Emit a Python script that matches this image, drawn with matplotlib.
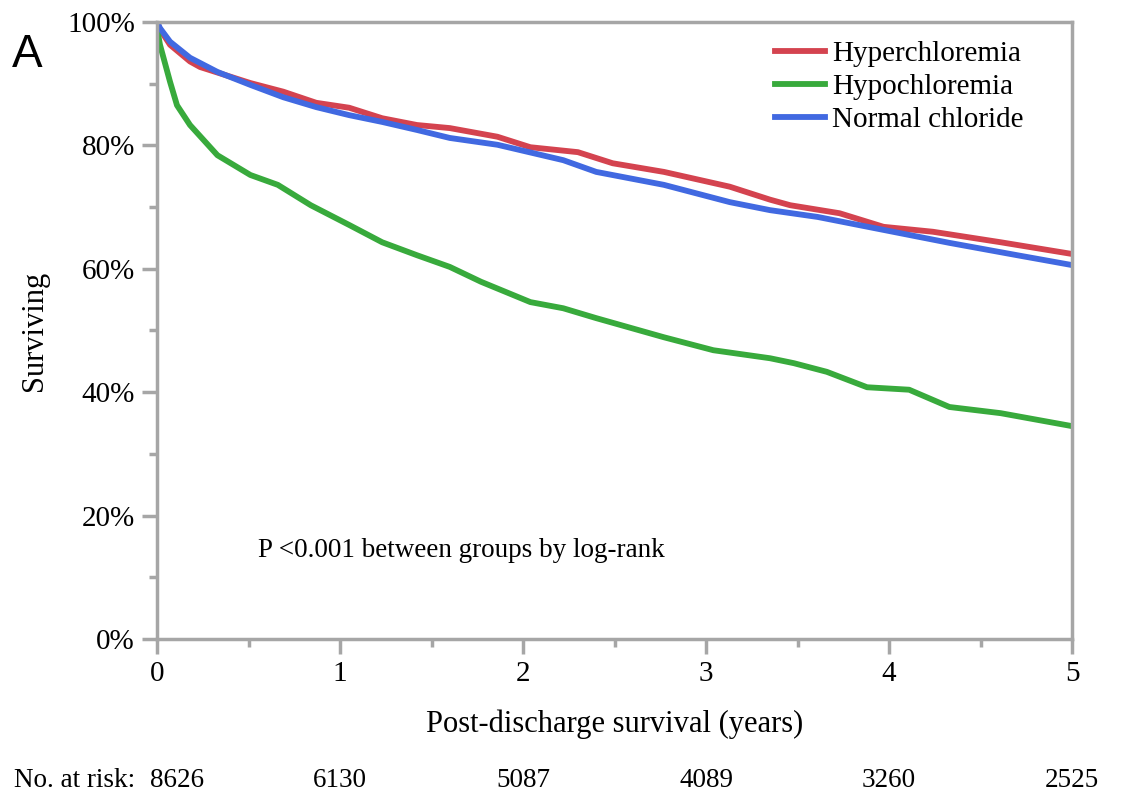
import matplotlib.pyplot as plt
from matplotlib.ticker import MultipleLocator, FuncFormatter

# survival curves (years, % surviving)
hyper_t = [0, 0.016, 0.071, 0.18, 0.235, 0.51, 0.69, 0.87, 1.05, 1.23, 1.42, 1.60,
           1.86, 2.04, 2.30, 2.49, 2.77, 3.13, 3.35, 3.46, 3.73, 3.97, 4.24, 4.61, 5.0]
hyper_s = [100, 98.8, 96.3, 93.6, 92.7, 90.1, 88.7, 86.9, 86.1, 84.4, 83.3, 82.8,
           81.4, 79.7, 78.9, 77.1, 75.7, 73.3, 71.2, 70.3, 69.0, 66.8, 66.0, 64.3, 62.4]

hypo_t = [0, 0.016, 0.071, 0.109, 0.18, 0.33, 0.51, 0.66, 0.84, 1.05, 1.23, 1.42, 1.60,
          1.77, 2.04, 2.22, 2.40, 2.77, 3.04, 3.35, 3.48, 3.66, 3.88, 4.11, 4.33, 4.61, 5.0]
hypo_s = [99.0, 96.3, 90.3, 86.5, 83.3, 78.4, 75.2, 73.6, 70.3, 67.1, 64.3, 62.2, 60.3,
          57.9, 54.6, 53.6, 52.0, 48.9, 46.8, 45.5, 44.7, 43.3, 40.8, 40.4, 37.6, 36.6, 34.5]

norm_t = [0, 0.016, 0.071, 0.18, 0.33, 0.51, 0.69, 0.87, 1.05, 1.23, 1.42, 1.60, 1.86,
          2.22, 2.40, 2.77, 3.13, 3.35, 3.61, 3.97, 4.33, 4.70, 5.0]
norm_s = [100, 99.0, 96.8, 94.2, 91.9, 89.8, 87.8, 86.2, 84.9, 83.8, 82.5, 81.2, 80.1,
          77.6, 75.7, 73.6, 70.8, 69.5, 68.4, 66.3, 64.2, 62.2, 60.6]

risk_years = [0, 1, 2, 3, 4, 5]
at_risk = [8626, 6130, 5087, 4089, 3260, 2525]

serif = 'Liberation Serif'
grey = '#a6a6a6'

fig = plt.figure(figsize=(11.25, 7.93), dpi=100)
ax = fig.add_axes([0.1396, 0.1942, 0.8133, 0.7781])

ax.plot(hyper_t, hyper_s, color='#d4434f', lw=4.2, label='Hyperchloremia')
ax.plot(hypo_t, hypo_s, color='#38aa3c', lw=4.2, label='Hypochloremia')
ax.plot(norm_t, norm_s, color='#4169e1', lw=4.2, label='Normal chloride')

ax.set_xlim(0, 5)
ax.set_ylim(0, 100)
ax.xaxis.set_major_locator(MultipleLocator(1))
ax.xaxis.set_minor_locator(MultipleLocator(0.5))
ax.yaxis.set_major_locator(MultipleLocator(20))
ax.yaxis.set_minor_locator(MultipleLocator(10))
ax.yaxis.set_major_formatter(FuncFormatter(lambda v, p: '%d%%' % v))

for s in ax.spines.values():
    s.set_color(grey)
    s.set_linewidth(2.5)
ax.tick_params(which='major', length=11, width=2.5, color=grey, direction='out', pad=5)
ax.tick_params(which='minor', length=6, width=2.5, color=grey, direction='out')
for lab in ax.get_xticklabels() + ax.get_yticklabels():
    lab.set_fontfamily(serif)
    lab.set_fontsize(21)

ax.set_xlabel('Post-discharge survival (years)', fontfamily=serif, fontsize=22, labelpad=16)
ax.set_ylabel('Surviving', fontfamily=serif, fontsize=22, labelpad=13)

ax.text(0.55, 14.4, 'P <0.001 between groups by log-rank', fontfamily=serif,
        fontsize=19.5, va='center')

leg = ax.legend(loc='upper right', bbox_to_anchor=(0.968, 1.0), frameon=False,
                prop={'family': serif, 'size': 21}, handlelength=1.7,
                handletextpad=0.25, labelspacing=0.22, borderaxespad=0.25)

fig.text(0.011, 0.9155, 'A', fontfamily='Liberation Sans', fontsize=33, va='baseline')

# numbers at risk under the axis
fig.text(0.012, 0.008, 'No. at risk:', fontfamily=serif, fontsize=19.5, va='baseline')
for yr, n in zip(risk_years, at_risk):
    px = ax.transData.transform((yr, 0))[0] / fig.bbox.width
    if yr == 0:
        fig.text(px - 0.006, 0.008, str(n), fontfamily=serif, fontsize=19.5, va='baseline')
    else:
        fig.text(px, 0.008, str(n), fontfamily=serif, fontsize=19.5, va='baseline', ha='center')

fig.savefig('out.png', dpi=100)
